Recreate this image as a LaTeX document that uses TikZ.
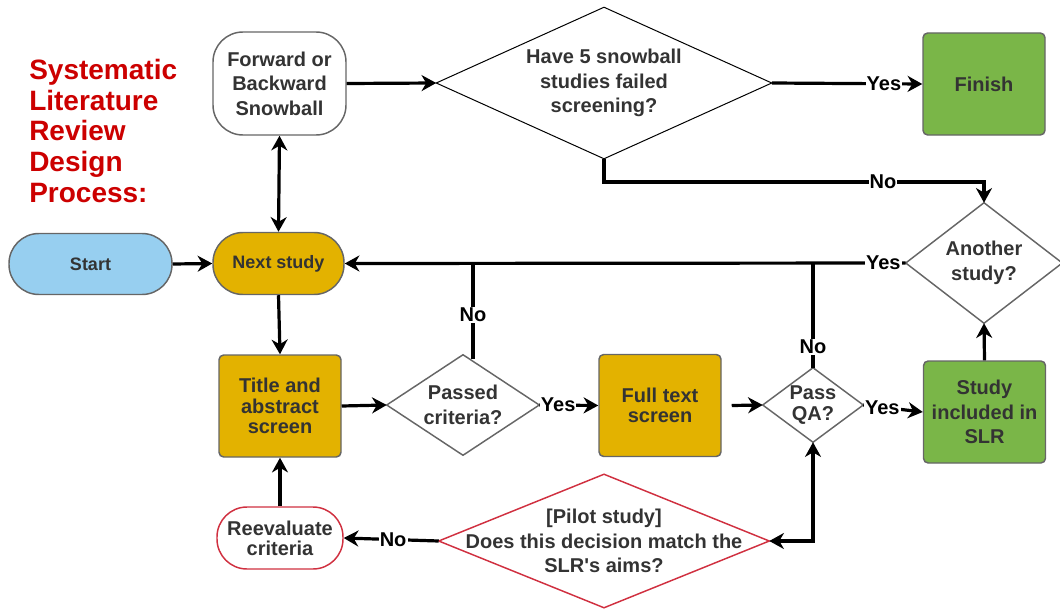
\documentclass[tikz,border=0pt]{standalone}
\usepackage{fontspec}
\setmainfont{Liberation Sans}[Ligatures=TeXOff]
\usetikzlibrary{arrows.meta,calc}

\definecolor{txt}{HTML}{333333}
\definecolor{rim}{HTML}{666666}
\definecolor{sky}{RGB}{151,207,240}
\definecolor{gold}{RGB}{227,178,0}
\definecolor{leaf}{RGB}{122,182,72}
\definecolor{alert}{RGB}{208,48,64}
\definecolor{heading}{RGB}{204,0,0}

\tikzset{
  nodefont/.style={font=\fontsize{15}{18.4}\selectfont\bfseries},
  tight/.style={font=\fontsize{15}{15.2}\selectfont\bfseries},
  box/.style={draw=rim, line width=1.1pt, text=txt, align=center, inner sep=0pt, nodefont},
  pill/.style={box, rounded corners=22.5pt},
  sq/.style={box, rounded corners=3.5pt, minimum width=91.5pt, minimum height=76.5pt},
  dia/.style={rectangle, inner sep=0pt, text=txt, align=center, nodefont,
    append after command={\pgfextra{\draw[#1] (\tikzlastnode.north) -- (\tikzlastnode.east)
      -- (\tikzlastnode.south) -- (\tikzlastnode.west) -- cycle;}}},
  conn/.style={line width=2.4pt, -{Stealth[length=11pt,width=12pt,inset=3.5pt]}},
  both/.style={line width=2.4pt, {Stealth[length=11pt,width=12pt,inset=3.5pt]}-{Stealth[length=11pt,width=12pt,inset=3.5pt]}},
  plain/.style={line width=2.4pt},
  lbl/.style={fill=white, inner sep=0.8pt, text=black, font=\fontsize{15}{17}\selectfont\bfseries},
}

\begin{document}
\begin{tikzpicture}[x=0.75pt,y=-0.75pt]
\useasboundingbox (0,0) rectangle (1060,610);

% heading (anchored at the baseline of its last line)
\node[anchor=base west, inner sep=0pt, align=left, text=heading,
  font=\fontsize{21}{22.9}\selectfont\bfseries] (ttl) at (29,202)
  {Systematic\\Literature\\Review\\Design\\Process:};

% boxes
\node[pill, fill=sky, minimum width=122.25pt, minimum height=45.75pt,
  font=\fontsize{13.5}{16}\selectfont\bfseries] (start) at (90.5,264) {Start};
\node[pill, fill=gold, minimum width=98.25pt, minimum height=46.5pt,
  font=\fontsize{13.5}{16}\selectfont\bfseries] (next) at (278.5,263.5) {Next study};
\node[pill, fill=white, minimum width=99.75pt, minimum height=77.25pt] (fwd) at (279.5,83.5)
  {Forward or\\Backward\\Snowball};
\node[sq, fill=leaf] (finish) at (984,84) {Finish};
\node[sq, fill=gold, tight] (tas) at (280,406) {Title and\\abstract\\screen};
\node[sq, fill=gold, tight] (full) at (660,405.5) {Full text\\screen};
\node[sq, fill=leaf] (incl) at (984.5,412) {Study\\included in\\SLR};
\node[pill, draw=alert, fill=white, tight, minimum width=94.5pt, minimum height=46.5pt] (reeval) at (280,538)
  {Reevaluate\\criteria};

% decisions
\node[dia={draw=black, line width=0.75pt}, minimum width=251.25pt, minimum height=113.25pt] (snow) at (604,83)
  {Have 5 snowball\\studies failed\\screening?};
\node[dia={draw=rim, line width=1.1pt}, minimum width=117pt, minimum height=90pt] (another) at (984,263)
  {Another\\study?};
\node[dia={draw=rim, line width=1.1pt}, minimum width=114pt, minimum height=75pt] (passed) at (463,405)
  {Passed\\criteria?};
\node[dia={draw=rim, line width=1.1pt}, tight, minimum width=75pt, minimum height=55.5pt] (qa) at (813,405)
  {Pass\\QA?};
\node[dia={draw=alert, line width=1.1pt}, minimum width=247.5pt, minimum height=99.75pt] (pilot) at (604,541)
  {[Pilot study]\\Does this decision match the\\SLR's aims?};

% junctions on the return line
\coordinate (j1) at (473,263);
\coordinate (j2) at (813,263);
\coordinate (turn) at (984,182);

% connectors
\draw[conn] (fwd.east) -- (snow.west);
\draw[both] (fwd.south) -- (next.north);
\draw[conn] (start.east) -- (next.west);
\draw[conn] (snow.east) -- node[lbl, pos=0.745] {Yes} (finish.west);
\draw[conn] (snow.south) |- node[lbl, pos=0.867] {No} (turn) -- (another.north);
\draw[conn] (another.west) -- node[lbl, pos=0.04] {Yes} (next.east);
\draw[plain] ([xshift=7.5pt,yshift=-3pt]passed.north) -- node[lbl, pos=0.46] {No} (j1);
\draw[plain] (qa.north) -- node[lbl, pos=0.2] {No} (j2);
\draw[conn] (next.south) -- (tas.north);
\draw[conn] (tas.east) -- (passed.west);
\draw[conn] (passed.east) -- node[lbl, pos=0.32] {Yes} (full.west);
\draw[conn] ([xshift=7.5pt]full.east) -- (qa.west);
\draw[conn] (qa.east) -- node[lbl, pos=0.32] {Yes} (incl.west);
\draw[conn] (incl.north) -- (another.south);
\draw[both] (qa.south) |- (pilot.east);
\draw[conn] (pilot.west) -- node[lbl, pos=0.48] {No} (reeval.east);
\draw[conn] (reeval.north) -- (tas.south);
\end{tikzpicture}
\end{document}
